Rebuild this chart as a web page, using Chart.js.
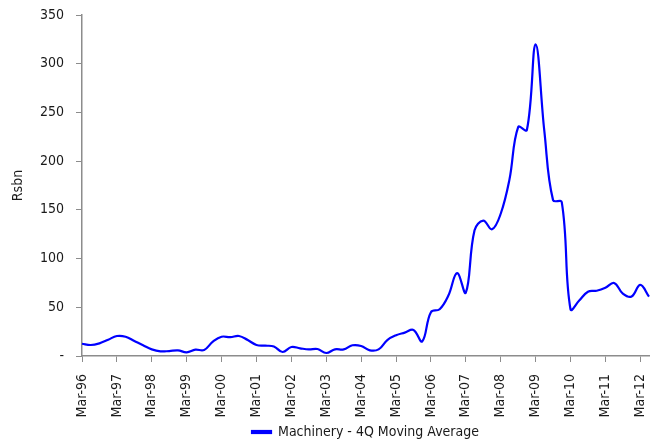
<!DOCTYPE html>
<html>
<head>
<meta charset="utf-8">
<script src="https://cdn.jsdelivr.net/npm/chart.js@4/dist/chart.umd.min.js"></script>
<style>
  body { margin: 0; background: #fff; }
  #canvasContainer { width: 654px; height: 442px; }
</style>
</head>
<body>
<div id="canvasContainer">
  <canvas id="myCanvas" width="654" height="442"></canvas>
</div>
<script>
// quarterly, Mar-96 .. Jun-12
const quarters = [];
const months = ['Mar', 'Jun', 'Sep', 'Dec'];
for (let y = 96; y <= 112; y++) {
  months.forEach(m => {
    const yy = String(y % 100).padStart(2, '0');
    quarters.push(m + '-' + yy);
  });
}
const labels = quarters.slice(0, 66);

const machinery = [
  12.6, 11.3, 13, 16.7, 20.5, 19.8, 15.4, 11, 6.8, 4.8,
  5.1, 5.8, 3.8, 6.5, 6.2, 14.7, 19.8, 19.3, 20.5, 16.4,
  11.3, 10.6, 9.8, 4.1, 9.2, 7.9, 6.8, 7.2, 3.1, 6.8,
  6.8, 11, 10.3, 5.8, 6.8, 16.4, 21.3, 24, 26.7, 15,
  45, 48, 62, 85, 65, 129, 139, 130, 146, 181,
  235, 232, 320, 231, 160, 158, 48, 57, 66, 67,
  70, 75, 64, 61, 73, 61
];

const yTicks = [0, 50, 100, 150, 200, 250, 300, 350];

const fontFamily = "'DejaVu Sans Condensed', 'Liberation Sans', sans-serif";
const axisGrey = '#8c8c8c';
const textColor = '#1a1a1a';

let ctx = document.getElementById('myCanvas').getContext('2d');
let myLineChart = new Chart(ctx, {
  type: 'line',
  data: {
    labels: labels,
    datasets: [{
      label: 'Machinery - 4Q Moving Average',
      data: machinery,
      borderColor: '#0000ff',
      backgroundColor: '#0000ff',
      borderWidth: 2.2,
      pointRadius: 0,
      tension: 0.4,
      fill: false
    }]
  },
  options: {
    responsive: false,
    animation: false,
    layout: { padding: { top: 15, right: 5, left: 0, bottom: -7 } },
    plugins: {
      tooltip: { enabled: false },
      legend: {
        position: 'bottom',
        fullSize: false,
        labels: {
          boxWidth: 19,
          boxHeight: 2,
          padding: 0,
          color: textColor,
          font: { family: fontFamily, size: 14 }
        }
      }
    },
    scales: {
      x: {
        type: 'category',
        offset: false,
        border: { color: axisGrey, width: 1.5 },
        grid: {
          drawOnChartArea: false,
          tickLength: 6,
          color: c => (c.index % 4 === 0 ? axisGrey : 'rgba(0,0,0,0)')
        },
        ticks: {
          autoSkip: false,
          maxRotation: 90,
          minRotation: 90,
          padding: 12,
          color: textColor,
          font: { family: fontFamily, size: 14 },
          callback: function (val, idx) {
            return idx % 4 === 0 ? this.getLabelForValue(val) : '';
          }
        },
        afterFit: s => {
          s.height = 69;
          s.paddingLeft = 0;
          s.paddingRight = 0;
        }
      },
      y: {
        min: 0,
        max: 350,
        border: { color: axisGrey, width: 1.5 },
        grid: { drawOnChartArea: false, tickLength: 6, color: axisGrey },
        afterBuildTicks: s => { s.ticks = yTicks.map(v => ({ value: v })); },
        ticks: {
          padding: 12,
          color: textColor,
          font: { family: fontFamily, size: 14 },
          callback: v => (v === 0 ? '-' : v)
        },
        title: {
          display: true,
          text: 'Rsbn',
          color: textColor,
          padding: { top: 10, bottom: 0 },
          font: { family: fontFamily, size: 14 }
        },
        afterFit: s => {
          s.width = 82;
          s.paddingTop = 0;
          s.paddingBottom = 0;
        }
      }
    }
  }
});
</script>
</body>
</html>
